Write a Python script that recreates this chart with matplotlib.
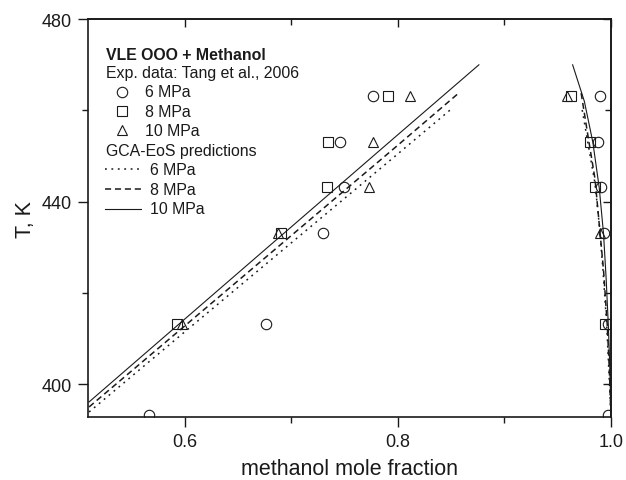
import matplotlib
matplotlib.use("Agg")
import matplotlib.pyplot as plt
from matplotlib.ticker import MultipleLocator, FormatStrFormatter

plt.rcParams['font.family'] = ['Liberation Sans', 'DejaVu Sans']

# experimental points (Tang et al., 2006): temperatures and mole fractions
T_6 = [393.15, 413.15, 433.15, 443.15, 453.15, 463.15]
x_6 = [0.566, 0.676, 0.730, 0.749, 0.746, 0.777]
y_6 = [0.997, 0.997, 0.993, 0.991, 0.988, 0.990]

T_8 = [413.15, 433.15, 443.15, 453.15, 463.15]
x_8 = [0.593, 0.690, 0.733, 0.734, 0.791]
T_8v = [413.15, 443.15, 453.15, 463.15]
y_8 = [0.994, 0.985, 0.980, 0.962]

T_10 = [413.15, 433.15, 443.15, 453.15, 463.15]
x_10 = [0.597, 0.687, 0.773, 0.777, 0.811]
T_10v = [433.15, 463.15]
y_10 = [0.990, 0.959]

# GCA-EoS predictions, liquid (left) and vapour (right) branches
gca6_liq_x = [0.51, 0.60, 0.70, 0.80, 0.849]
gca6_liq_T = [393.9, 411.5, 431.0, 450.5, 460.1]
gca6_vap_x = [0.973, 0.979, 0.985, 0.989, 0.9925, 0.996, 0.998, 1.0]
gca6_vap_T = [460.1, 452.0, 444.0, 435.0, 425.0, 413.0, 403.0, 392.8]

gca8_liq_x = [0.51, 0.60, 0.70, 0.80, 0.857]
gca8_liq_T = [395.0, 412.8, 432.6, 452.4, 463.8]
gca8_vap_x = [0.972, 0.978, 0.985, 0.989, 0.993, 0.9965, 0.9985, 1.0]
gca8_vap_T = [463.8, 455.0, 445.0, 435.0, 425.0, 413.0, 403.0, 392.8]

gca10_liq_x = [0.51, 0.60, 0.70, 0.80, 0.876]
gca10_liq_T = [396.1, 414.3, 434.5, 454.7, 470.0]
gca10_vap_x = [0.964, 0.975, 0.983, 0.989, 0.993, 0.9955, 0.9975, 0.999, 1.0]
gca10_vap_T = [470.0, 462.0, 453.0, 443.0, 433.0, 423.0, 413.0, 403.0, 392.8]

ink = '#1a1a1a'
mk = dict(linestyle='none', mfc='none', mec=ink, mew=0.8, ms=7.5)
dot = dict(color=ink, lw=1.1, dashes=(1.2, 3.0))
dash = dict(color=ink, lw=1.1, dashes=(4.0, 2.5))
solid = dict(color=ink, lw=0.8)

fig = plt.figure(figsize=(6.26, 4.81), dpi=100)
ax = fig.add_axes([0.1406, 0.131, 0.8354, 0.827])

ax.plot(gca6_liq_x, gca6_liq_T, **dot)
ax.plot(gca6_vap_x, gca6_vap_T, **dot)
ax.plot(gca8_liq_x, gca8_liq_T, **dash)
ax.plot(gca8_vap_x, gca8_vap_T, **dash)
ax.plot(gca10_liq_x, gca10_liq_T, **solid)
ax.plot(gca10_vap_x, gca10_vap_T, **solid)

ax.plot(x_6, T_6, marker='o', **mk)
ax.plot(y_6, T_6, marker='o', **mk)
ax.plot(x_8, T_8, marker='s', **mk)
ax.plot(y_8, T_8v, marker='s', **mk)
ax.plot(x_10, T_10, marker='^', **mk)
ax.plot(y_10, T_10v, marker='^', **mk)

ax.set_xlim(0.509, 1.0)
ax.set_ylim(392.8, 480)
ax.xaxis.set_major_locator(MultipleLocator(0.2))
ax.xaxis.set_minor_locator(MultipleLocator(0.1))
ax.yaxis.set_major_locator(MultipleLocator(40))
ax.yaxis.set_minor_locator(MultipleLocator(20))
ax.xaxis.set_major_formatter(FormatStrFormatter('%.1f'))
ax.tick_params(which='both', direction='out', width=1.0, colors=ink, labelsize=13)
ax.tick_params(which='major', length=7, pad=4.5)
ax.tick_params(which='minor', length=4.5)
for s in ax.spines.values():
    s.set_linewidth(1.2)
    s.set_color(ink)

# mirrored ticks pointing inward on top and right
top = ax.secondary_xaxis('top')
top.set_xticks([0.6, 0.8, 1.0])
top.set_xticks([0.7, 0.9], minor=True)
right = ax.secondary_yaxis('right')
right.set_yticks([400, 440, 480])
right.set_yticks([420, 460], minor=True)
for sec in (top, right):
    sec.tick_params(which='both', direction='in', width=1.0, colors=ink,
                    labelleft=False, labelright=False, labeltop=False, labelbottom=False)
    sec.tick_params(which='major', length=6)
    sec.tick_params(which='minor', length=4)
    for s in sec.spines.values():
        s.set_linewidth(1.2)
        s.set_color(ink)

ax.set_xlabel('methanol mole fraction', fontsize=15.5, color=ink, labelpad=5.5)
ax.set_ylabel('T, K', fontsize=15.5, color=ink, labelpad=4.5)

# legend block
tr = ax.transAxes
fs = 11.4
ax.text(0.034, 0.912, 'VLE OOO + Methanol', transform=tr, fontsize=fs,
        fontweight='bold', color=ink, va='center')
ax.text(0.034, 0.867, 'Exp. data: Tang et al., 2006', transform=tr, fontsize=fs,
        color=ink, va='center')
for yy, m, lab in [(0.817, 'o', '6 MPa'), (0.769, 's', '8 MPa'), (0.721, '^', '10 MPa')]:
    ax.plot([0.065], [yy], marker=m, transform=tr, **mk)
    ax.text(0.109, yy, lab, transform=tr, fontsize=fs, color=ink, va='center')
ax.text(0.034, 0.671, 'GCA-EoS predictions', transform=tr, fontsize=fs,
        color=ink, va='center')
for yy, st, lab in [(0.623, dot, '6 MPa'), (0.573, dash, '8 MPa'), (0.523, solid, '10 MPa')]:
    ax.plot([0.0325, 0.101], [yy, yy], transform=tr, **st)
    ax.text(0.119, yy, lab, transform=tr, fontsize=fs, color=ink, va='center')

fig.savefig('out.png', dpi=100)
